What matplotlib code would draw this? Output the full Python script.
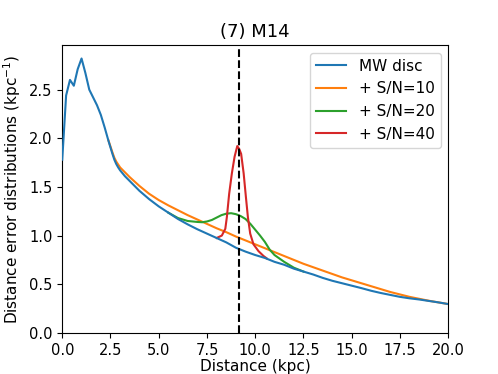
import matplotlib
matplotlib.use("Agg")
import matplotlib.pyplot as plt

# MW disc
x_disc = [0.0, 0.2, 0.4, 0.6, 0.8, 1.0, 1.2, 1.4, 1.6, 1.8, 2.0, 2.2, 2.4, 2.6, 2.7, 2.8,
          2.9, 3.0, 3.25, 3.5, 4.0, 4.5, 5.0, 5.5, 6.0, 6.5, 7.0, 7.5, 8.0, 8.5, 9.0, 9.5,
          10.0, 10.5, 11.0, 11.5, 12.0, 12.5, 13.0, 13.5, 14.0, 14.5, 15.0, 15.5, 16.0,
          16.5, 17.0, 17.5, 18.0, 18.5, 19.0, 19.5, 20.0]
y_disc = [1.78, 2.44, 2.60, 2.54, 2.71, 2.82, 2.67, 2.50, 2.42, 2.34, 2.24, 2.11, 1.97,
          1.84, 1.78, 1.735, 1.70, 1.67, 1.61, 1.56, 1.46, 1.375, 1.30, 1.235, 1.17, 1.115,
          1.065, 1.02, 0.975, 0.93, 0.875, 0.835, 0.80, 0.77, 0.73, 0.70, 0.66, 0.63, 0.60,
          0.565, 0.535, 0.51, 0.485, 0.46, 0.433, 0.41, 0.39, 0.37, 0.355, 0.343, 0.328,
          0.313, 0.296]

# + S/N=10
x_sn10 = [2.4, 2.6, 2.7, 2.8, 2.9, 3.0, 3.25, 3.5, 4.0, 4.5, 5.0, 5.5, 6.0, 6.5, 7.0, 7.5,
          8.0, 8.5, 9.0, 9.5, 10.0, 10.5, 11.0, 11.5, 12.0, 12.5, 13.0, 13.5, 14.0, 14.5,
          15.0, 15.5, 16.0, 16.5, 17.0, 17.5, 18.0, 18.5, 19.0, 19.5, 20.0]
y_sn10 = [1.975, 1.855, 1.80, 1.76, 1.73, 1.70, 1.65, 1.60, 1.51, 1.43, 1.365, 1.31, 1.26,
          1.21, 1.165, 1.12, 1.075, 1.035, 0.99, 0.95, 0.91, 0.87, 0.83, 0.79, 0.75, 0.71,
          0.675, 0.64, 0.605, 0.57, 0.54, 0.51, 0.48, 0.45, 0.42, 0.395, 0.37, 0.35, 0.33,
          0.313, 0.296]

# + S/N=20
x_sn20 = [5.5, 6.0, 6.5, 7.0, 7.25, 7.5, 7.75, 8.0, 8.25, 8.5, 8.75, 9.0, 9.25, 9.5,
          9.75, 10.0, 10.25, 10.5, 10.75, 11.0, 11.25, 11.5, 11.75, 12.0, 12.5]
y_sn20 = [1.235, 1.18, 1.15, 1.14, 1.137, 1.145, 1.16, 1.185, 1.21, 1.225, 1.23, 1.22,
          1.20, 1.17, 1.12, 1.06, 1.0, 0.935, 0.855, 0.80, 0.765, 0.73, 0.70, 0.67, 0.63]

# + S/N=40
x_sn40 = [8.0, 8.27, 8.45, 8.53, 8.65, 8.79, 8.93, 9.07, 9.17, 9.27, 9.4, 9.52, 9.62,
          9.74, 9.91, 10.17, 10.43, 10.6]
y_sn40 = [0.975, 1.0, 1.07, 1.19, 1.43, 1.64, 1.81, 1.92, 1.89, 1.84, 1.64, 1.39, 1.19,
          1.02, 0.91, 0.84, 0.79, 0.765]

cluster_distance = 9.14

fig, ax = plt.subplots(figsize=(4.98, 3.74), dpi=100)
fig.subplots_adjust(left=0.125, right=0.9, top=0.88, bottom=0.11)

ax.plot(x_disc, y_disc, color="#1f77b4", label="MW disc", zorder=5, lw=1.5)
ax.plot(x_sn10, y_sn10, color="#ff7f0e", label="+ S/N=10", zorder=4, lw=1.5)
ax.plot(x_sn20, y_sn20, color="#2ca02c", label="+ S/N=20", zorder=4, lw=1.5)
ax.plot(x_sn40, y_sn40, color="#d62728", label="+ S/N=40", zorder=4, lw=1.5)
ax.axvline(cluster_distance, color="black", ls="--", lw=1.5, zorder=6)

ax.set_xlim(0, 20)
ax.set_ylim(0, 2.96)
ax.set_xticks([0, 2.5, 5, 7.5, 10, 12.5, 15, 17.5, 20])
ax.set_yticks([0, 0.5, 1.0, 1.5, 2.0, 2.5])
ax.tick_params(labelsize=10.5)
ax.set_xlabel("Distance (kpc)", fontsize=11, labelpad=1)
ax.set_ylabel("Distance error distributions (kpc$^{-1}$)", fontsize=11)
ax.set_title("(7) M14", fontsize=13)
ax.legend(loc="upper right", fontsize=11)

fig.savefig("out.png", dpi=100)
